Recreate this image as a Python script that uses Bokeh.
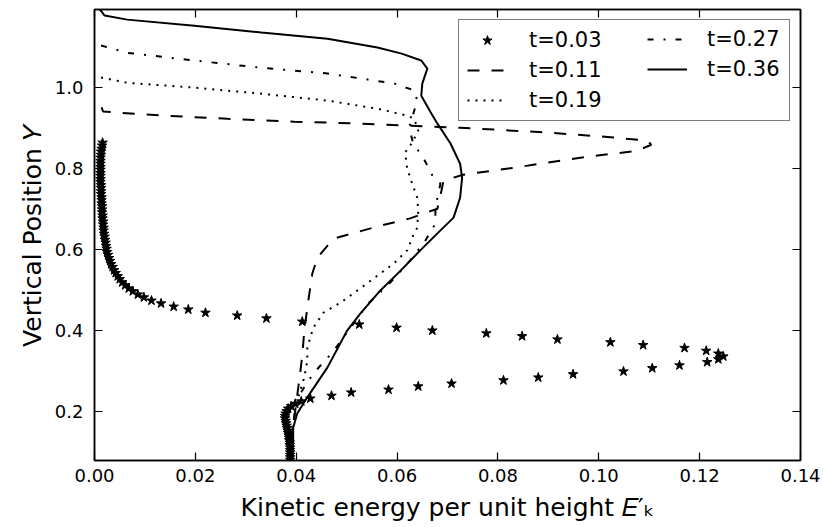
from bokeh.plotting import figure
from bokeh.models import (Legend, LegendItem, LinearAxis, FixedTicker, NumeralTickFormatter,
                          Range1d, CustomLabelingPolicy)
from bokeh.core.properties import value
from bokeh.embed import file_html
from bokeh.resources import INLINE

# ---------------- data ----------------
x_ticks = [0.00, 0.02, 0.04, 0.06, 0.08, 0.10, 0.12, 0.14]
y_ticks = [0.2, 0.4, 0.6, 0.8, 1.0]

# t = 0.03 (stars)
star_y = [0.864, 0.857, 0.849, 0.842, 0.834, 0.827, 0.819, 0.812, 0.804, 0.797,
          0.789, 0.782, 0.774, 0.767, 0.759, 0.752, 0.744, 0.737, 0.729, 0.722,
          0.714, 0.707, 0.699, 0.692, 0.684, 0.677, 0.669, 0.662, 0.654, 0.647,
          0.639, 0.632, 0.624, 0.617, 0.609, 0.602, 0.594, 0.587, 0.579, 0.572,
          0.564, 0.557, 0.549, 0.542, 0.534, 0.527, 0.519, 0.512, 0.504, 0.497,
          0.489, 0.482, 0.474, 0.467, 0.459, 0.452, 0.444, 0.437, 0.430, 0.422,
          0.415, 0.407, 0.400, 0.393, 0.386, 0.378, 0.371, 0.364, 0.357, 0.350,
          0.343, 0.336, 0.329, 0.322, 0.314, 0.307, 0.299, 0.292, 0.284, 0.277,
          0.269, 0.262, 0.254, 0.247, 0.239, 0.232, 0.225, 0.219, 0.213, 0.207,
          0.201, 0.195, 0.189, 0.183, 0.177, 0.171, 0.165, 0.159, 0.153, 0.147,
          0.141, 0.135, 0.129, 0.123, 0.117, 0.111, 0.105, 0.099, 0.093, 0.087,
          0.081]
star_x = [0.0016, 0.0015, 0.0014, 0.0013, 0.0013, 0.0012, 0.0012, 0.0012, 0.0012, 0.0012,
          0.0012, 0.0012, 0.0012, 0.0012, 0.0013, 0.0013, 0.0013, 0.0013, 0.0014, 0.0014,
          0.0014, 0.0015, 0.0015, 0.0015, 0.0016, 0.0016, 0.0017, 0.0017, 0.0018, 0.0018,
          0.0019, 0.0020, 0.0021, 0.0022, 0.0023, 0.0024, 0.0025, 0.0027, 0.0029, 0.0031,
          0.0033, 0.0036, 0.0039, 0.0042, 0.0046, 0.0050, 0.0055, 0.0061, 0.0068, 0.0076,
          0.0086, 0.0098, 0.0113, 0.0132, 0.0157, 0.0186, 0.0220, 0.0283, 0.0341, 0.0412,
          0.0525, 0.0599, 0.0670, 0.0777, 0.0848, 0.0918, 0.1023, 0.1088, 0.1170, 0.1213,
          0.1237, 0.1247, 0.1237, 0.1215, 0.1160, 0.1106, 0.1049, 0.0949, 0.0880, 0.0811,
          0.0708, 0.0642, 0.0583, 0.0509, 0.0470, 0.0428, 0.0410, 0.0398, 0.0390, 0.0384,
          0.0381, 0.0379, 0.0378, 0.0378, 0.0379, 0.0380, 0.0381, 0.0382, 0.0383, 0.0384,
          0.0385, 0.0386, 0.0386, 0.0387, 0.0387, 0.0388, 0.0388, 0.0388, 0.0388, 0.0388,
          0.0388]

# t = 0.11 (dashed)
t011_x = [0.0014, 0.0017, 0.0133, 0.0264, 0.0396, 0.0529, 0.0628, 0.0725, 0.0898, 0.1029,
          0.1096, 0.1104, 0.1076, 0.0963, 0.0831, 0.0731, 0.0692, 0.0686, 0.0680, 0.0626,
          0.0567, 0.0474, 0.0442, 0.0432, 0.0424, 0.0416, 0.0412, 0.0406, 0.0402, 0.0398,
          0.0392, 0.0390]
t011_y = [0.951, 0.941, 0.931, 0.923, 0.916, 0.911, 0.906, 0.901, 0.889, 0.877,
          0.869, 0.859, 0.844, 0.827, 0.802, 0.785, 0.770, 0.733, 0.701, 0.677,
          0.659, 0.627, 0.580, 0.541, 0.474, 0.400, 0.338, 0.277, 0.240, 0.202,
          0.153, 0.079]

# t = 0.19 (dotted)
t019_x = [0.0013, 0.0065, 0.0198, 0.0331, 0.0462, 0.0561, 0.0620, 0.0634, 0.0642, 0.0630,
          0.0616, 0.0620, 0.0630, 0.0640, 0.0642, 0.0640, 0.0632, 0.0620, 0.0593, 0.0567,
          0.0527, 0.0488, 0.0454, 0.0434, 0.0422, 0.0422, 0.0416, 0.0406, 0.0398, 0.0392,
          0.0390]
t019_y = [1.025, 1.012, 1.000, 0.985, 0.968, 0.948, 0.931, 0.923, 0.894, 0.864,
          0.840, 0.800, 0.763, 0.728, 0.696, 0.654, 0.635, 0.598, 0.565, 0.541,
          0.504, 0.469, 0.444, 0.407, 0.358, 0.326, 0.284, 0.244, 0.202, 0.153,
          0.079]

# t = 0.27 (dash-dot)
t027_x = [0.0013, 0.0065, 0.0198, 0.0331, 0.0462, 0.0595, 0.0634, 0.0640, 0.0624, 0.0632,
          0.0652, 0.0672, 0.0686, 0.0680, 0.0676, 0.0676, 0.0656, 0.0626, 0.0587, 0.0543,
          0.0472, 0.0452, 0.0434, 0.0418, 0.0406, 0.0398, 0.0392, 0.0390]
t027_y = [1.104, 1.086, 1.067, 1.049, 1.035, 1.010, 0.993, 0.968, 0.901, 0.862,
          0.827, 0.778, 0.763, 0.728, 0.696, 0.664, 0.622, 0.573, 0.519, 0.467,
          0.346, 0.319, 0.294, 0.264, 0.240, 0.202, 0.153, 0.079]

# t = 0.36 (solid)
t036_x = [0.0010, 0.0014, 0.0020, 0.0065, 0.0198, 0.0331, 0.0462, 0.0561, 0.0609, 0.0648,
          0.0660, 0.0650, 0.0648, 0.0668, 0.0680, 0.0706, 0.0725, 0.0729, 0.0725, 0.0712,
          0.0676, 0.0646, 0.0607, 0.0567, 0.0527, 0.0501, 0.0462, 0.0422, 0.0402, 0.0394,
          0.0394, 0.0392, 0.0392]
t036_y = [1.193, 1.188, 1.178, 1.168, 1.153, 1.136, 1.121, 1.099, 1.084, 1.067,
          1.047, 1.010, 0.980, 0.936, 0.911, 0.862, 0.812, 0.778, 0.728, 0.679,
          0.635, 0.598, 0.548, 0.499, 0.442, 0.400, 0.309, 0.235, 0.195, 0.160,
          0.128, 0.084, 0.079]

labels = ["t=0.03", "t=0.11", "t=0.19", "t=0.27", "t=0.36"]

# ---------------- figure ----------------
FONT = "DejaVu Sans"
p = figure(width=823, height=527, output_backend="svg", toolbar_location=None,
           x_range=Range1d(0.0, 0.14), y_range=Range1d(0.079, 1.193),
           min_border_left=94, min_border_right=23, min_border_top=9, min_border_bottom=67)
p.background_fill_color = "white"
p.border_fill_color = "white"
p.xgrid.visible = False
p.ygrid.visible = False
p.outline_line_color = "black"
p.outline_line_width = 1.5

for ax in (p.xaxis[0], p.yaxis[0]):
    ax.major_tick_in = 8
    ax.major_tick_out = 0
    ax.minor_tick_line_color = None
    ax.major_tick_line_width = 1.2
    ax.axis_line_width = 1.5
    ax.major_label_text_font = FONT
    ax.major_label_text_font_size = "18px"
    ax.major_label_text_color = "black"
    ax.axis_label_text_font = FONT
    ax.axis_label_text_font_size = "25px"
    ax.axis_label_text_font_style = "normal"
    ax.axis_label_text_color = "black"

p.xaxis.ticker = FixedTicker(ticks=x_ticks)
p.xaxis.formatter = NumeralTickFormatter(format="0.00")
p.xaxis.major_label_standoff = 8
p.xaxis.axis_label_standoff = 8
p.xaxis.axis_label = "Kinetic energy per unit height \U0001D438\u2032\u2096"

p.yaxis.ticker = FixedTicker(ticks=y_ticks)
p.yaxis.formatter = NumeralTickFormatter(format="0.0")
p.yaxis.major_label_standoff = 11
p.yaxis.axis_label_standoff = 5
p.yaxis.axis_label = "Vertical Position \U0001D44C"

# tick-only axes on the top and right edges (no labels drawn)
no_labels = CustomLabelingPolicy(code="")
top_ax = LinearAxis(ticker=FixedTicker(ticks=x_ticks), major_tick_in=8, major_tick_out=0,
                    minor_tick_line_color=None, major_label_text_font_size="1px",
                    major_label_policy=no_labels,
                    major_label_standoff=0, axis_line_width=1.5, major_tick_line_width=1.2)
right_ax = LinearAxis(ticker=FixedTicker(ticks=y_ticks), major_tick_in=8, major_tick_out=0,
                      minor_tick_line_color=None, major_label_text_font_size="1px",
                      major_label_policy=CustomLabelingPolicy(code=""),
                      major_label_standoff=0, axis_line_width=1.5, major_tick_line_width=1.2)
p.add_layout(top_ax, "above")
p.add_layout(right_ax, "right")

r03 = p.scatter(star_x, star_y, marker="star", size=10, fill_color="black", line_color="black")
r11 = p.line(t011_x, t011_y, line_color="black", line_width=2, line_dash="12 12")
r19 = p.line(t019_x, t019_y, line_color="black", line_width=2, line_dash="2 6")
r27 = p.line(t027_x, t027_y, line_color="black", line_width=2, line_dash="6 10 2 10")
r36 = p.line(t036_x, t036_y, line_color="black", line_width=2)

common = dict(location="top_right", margin=10, padding=8, spacing=6,
              glyph_width=40, glyph_height=24, label_height=24,
              label_text_font=FONT, label_text_font_size="21px", label_text_color="black")

legA = Legend(items=[LegendItem(label=value(labels[0]), renderers=[r03]),
                     LegendItem(label=value(labels[1]), renderers=[r11]),
                     LegendItem(label=value(labels[2]), renderers=[r19])],
              label_width=252, label_standoff=22,
              border_line_color="black", border_line_width=1.5,
              background_fill_color="white", background_fill_alpha=1.0, **common)
legB = Legend(items=[LegendItem(label=value(labels[3]), renderers=[r27]),
                     LegendItem(label=value(labels[4]), renderers=[r36])],
              label_width=75, label_standoff=20,
              border_line_alpha=0, background_fill_alpha=0, **common)
p.add_layout(legA)
p.add_layout(legB)

open("out.html", "w").write(file_html(p, INLINE))
